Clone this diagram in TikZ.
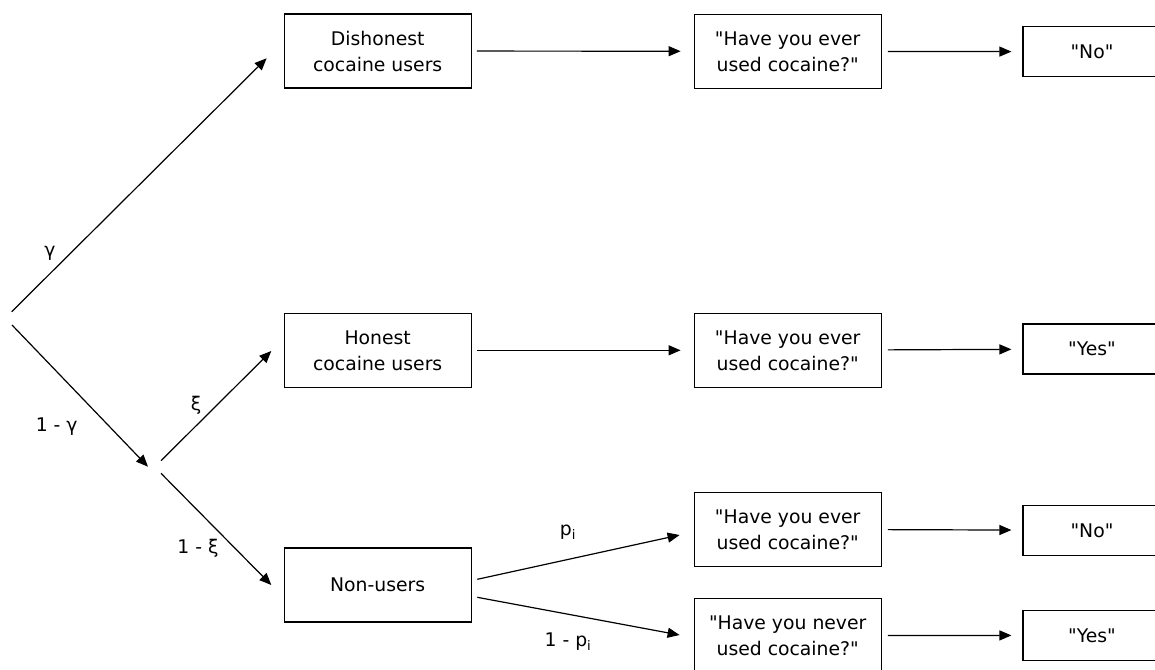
\documentclass[tikz,border=0pt]{standalone}
\usepackage{fontspec}
\setmainfont{DejaVu Sans}[Ligatures=TeXOff]
\usetikzlibrary{arrows.meta,calc}
\begin{document}
\begin{tikzpicture}[x=1pt,y=-1pt,
  box/.style={draw,line width=1.2pt,minimum width=187pt,minimum height=74pt,
    align=center,inner sep=0pt,font=\fontsize{18.8}{26}\selectfont},
  ansbox/.style={box,minimum width=138pt,minimum height=50pt},
  arr/.style={line width=1.2pt,-{Triangle[length=12pt,width=10pt]}},
  lbl/.style={font=\fontsize{18.8}{22}\selectfont,inner sep=0pt}]
\clip (0,0) rectangle (1155,669);
\fill[white] (0,0) rectangle (1155,669);

% population groups
\node[box] (dis) at (377.7,51)    {Dishonest\\cocaine users};
\node[box] (hon) at (377.7,350.3) {Honest\\cocaine users};
\node[box] (non) at (377.7,585)   {Non-users};

% questions asked
\node[box] (q1) at (787.7,51.3)  {"Have you ever\\used cocaine?"};
\node[box] (q2) at (787.7,350.3) {"Have you ever\\used cocaine?"};
\node[box] (q3) at (787.7,529.3) {"Have you ever\\used cocaine?"};
\node[box] (q4) at (787.7,635.7) {"Have you never\\used cocaine?"};

% answers given
\node[ansbox] (a1) at (1092,51.7)  {"No"};
\node[ansbox] (a2) at (1092,349)   {"Yes"};
\node[ansbox] (a3) at (1092,530.3) {"No"};
\node[ansbox] (a4) at (1092,635.3) {"Yes"};

% branching points
\coordinate (o1) at (11.7,311.7);
\coordinate (o2) at (12,325);
\coordinate (s1) at (161,460.7);
\coordinate (s2) at (161,473.3);
\coordinate (j)  at (148,466.7);

% tree branches
\draw[arr] (o1) -- ($(dis.west)+(-17,7.3)$);
\draw[arr] (o2) -- (j);
\draw[arr] (s1) -- ($(hon.west)+(-12.3,0.7)$);
\draw[arr] (s2) -- ($(non.west)+(-12.3,0)$);
\draw[arr] ($(non.east)+(5.5,-5.7)$) -- ($(q3.west)+(-14,5.7)$);
\draw[arr] ($(non.east)+(5.5,12.3)$) -- ($(q4.west)+(-14,-0.7)$);

% group -> question -> answer
\foreach \g/\q/\a in {dis/q1/a1, hon/q2/a2, q3/q3/a3, q4/q4/a4}{
  \ifx\g\q\else
    \draw[arr,shorten <=5pt,shorten >=13pt] (\g) -- (\q);
  \fi
  \draw[arr,shorten <=6pt,shorten >=11pt] (\q) -- (\a);
}

% branch probabilities
\node[lbl] (lg)  at (50,253)    {γ};
\node[lbl] (lng) at (56.7,426.7) {1 - γ};
\node[lbl] (lx)  at (196,405)   {ξ};
\node[lbl] (lnx) at (198,548)   {1 - ξ};
\node[lbl] (lp)  at (568,532)   {p\textsubscript{i}};
\node[lbl] (lnp) at (568,642)   {1 - p\textsubscript{i}};
\end{tikzpicture}
\end{document}
